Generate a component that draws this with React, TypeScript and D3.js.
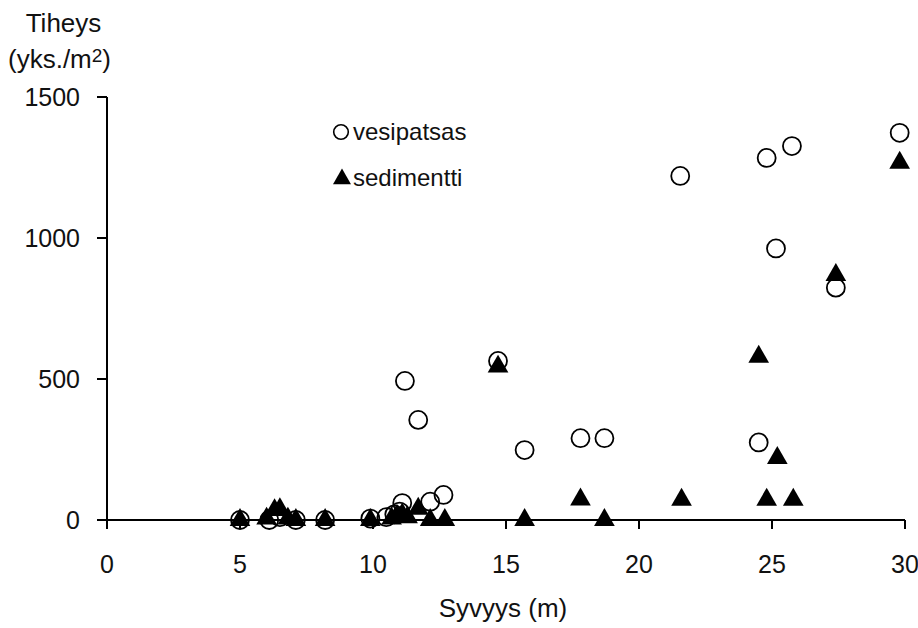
import React from "react";
import * as d3 from "d3";

const vesiX = [5.0, 6.1, 6.5, 7.1, 8.2, 9.9, 10.5, 10.8, 11.0, 11.1, 11.2, 11.7, 12.15, 12.65, 14.7, 15.7, 17.8, 18.7, 21.55, 24.5, 24.8, 25.15, 25.75, 27.4, 29.8];
const vesiY = [0, 0, 10, 0, 0, 5, 10, 20, 30, 60, 493, 355, 65, 89, 564, 248, 290, 290, 1220, 275, 1284, 963, 1326, 824, 1373];

const sedX = [5.0, 6.0, 6.3, 6.5, 6.8, 7.1, 8.2, 9.9, 10.7, 10.9, 11.1, 11.3, 11.7, 12.15, 12.7, 14.7, 15.7, 17.8, 18.7, 21.6, 24.5, 24.8, 25.2, 25.8, 27.4, 29.8];
const sedY = [0, 5, 35, 38, 5, 0, 0, 0, 5, 15, 20, 10, 40, 0, 0, 544, 0, 73, 0, 72, 579, 72, 220, 72, 869, 1267];

const xTicks = [0, 5, 10, 15, 20, 25, 30];
const yTicks = [0, 500, 1000, 1500];

const seriesNames = ["vesipatsas", "sedimentti"];
const xTitle = "Syvyys (m)";
const yTitle1 = "Tiheys";
const yTitle2 = "(yks./m";

const FONT = "'Liberation Sans', Arial, sans-serif";

export default function App() {
  const W = 918;
  const H = 628;
  const x = d3.scaleLinear().domain([0, 30]).range([107, 905]);
  const y = d3.scaleLinear().domain([0, 1500]).range([520, 97]);
  const triPath = d3.symbol().type(d3.symbolTriangle).size(185)() as string;
  const legTri = d3.symbol().type(d3.symbolTriangle).size(140)() as string;

  return (
    <svg width={W} height={H} style={{ position: "absolute", left: 0, top: 0, background: "#fff" }}>
      <rect x={0} y={0} width={W} height={H} fill="#fff" />
      <line x1={x(0)} x2={x(30)} y1={y(0)} y2={y(0)} stroke="#000" strokeWidth={2} />
      <line x1={x(0)} x2={x(0)} y1={y(0)} y2={y(1500)} stroke="#000" strokeWidth={2} />
      {yTicks.map((t) => (
        <g key={"y" + t}>
          <line x1={x(0) - 10} x2={x(0)} y1={y(t)} y2={y(t)} stroke="#000" strokeWidth={2} />
          <text x={80} y={y(t) + 9} textAnchor="end" fontSize={25} fontFamily={FONT} fill="#111">
            {t}
          </text>
        </g>
      ))}
      {xTicks.map((t) => (
        <g key={"x" + t}>
          <line x1={x(t)} x2={x(t)} y1={y(0)} y2={y(0) + 9} stroke="#000" strokeWidth={2} />
          <text x={x(t)} y={573} textAnchor="middle" fontSize={25} fontFamily={FONT} fill="#111">
            {t}
          </text>
        </g>
      ))}
      <text x={63.5} y={32} textAnchor="middle" fontSize={26} fontFamily={FONT} fill="#111">
        {yTitle1}
      </text>
      <text x={8} y={68} fontSize={26} fontFamily={FONT} fill="#111">
        {yTitle2}
        <tspan dy={-6} fontSize={19}>2</tspan>
        <tspan dy={6}>)</tspan>
      </text>
      <text x={503} y={617} textAnchor="middle" fontSize={26} fontFamily={FONT} fill="#111">
        {xTitle}
      </text>
      {vesiX.map((v, i) => (
        <circle key={"c" + i} cx={x(v)} cy={y(vesiY[i])} r={9} fill="none" stroke="#000" strokeWidth={1.8} />
      ))}
      {sedX.map((v, i) => (
        <path key={"t" + i} d={triPath} transform={`translate(${x(v)},${y(sedY[i])})`} fill="#000" />
      ))}
      <circle cx={341} cy={132} r={7.3} fill="none" stroke="#000" strokeWidth={1.6} />
      <text x={353} y={140} fontSize={24} fontFamily={FONT} fill="#111">{seriesNames[0]}</text>
      <path d={legTri} transform="translate(342,179)" fill="#000" />
      <text x={353} y={186} fontSize={24} fontFamily={FONT} fill="#111">{seriesNames[1]}</text>
    </svg>
  );
}
